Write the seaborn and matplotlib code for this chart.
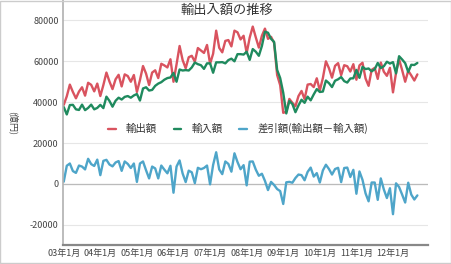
import numpy as np
import pandas as pd
import seaborn as sns
import matplotlib.pyplot as plt
from matplotlib.patches import Rectangle

# monthly values, 2003-01 .. 2012-09 (億円)
exports = [
    38700, 42900, 48600, 45000, 41900, 45200, 47300, 43200, 49500, 48500, 45300, 49100,
    43000, 48400, 54500, 50100, 46400, 51200, 53400, 47700, 53600, 52800, 50000, 53300,
    45000, 50800, 57700, 54000, 48400, 54500, 55600, 51800, 58800, 58000, 57000, 61000,
    50000, 58500, 67500, 60600, 56600, 62000, 62700, 59800, 66500, 65300, 64100, 68000,
    58800, 63700, 75000, 66600, 64400, 70000, 70400, 67300, 75000, 74200, 70700, 72500,
    64000, 71600, 77000, 71700, 66700, 72500, 76000, 71000, 72000, 69000, 53300, 48300,
    34800, 35300, 41600, 39700, 38000, 43000, 45500, 41500, 48600, 48900, 47400, 51700,
    45700, 51800, 60000, 56600, 52000, 57800, 59100, 53200, 58100, 57600, 55000, 58600,
    51000, 58000, 59300, 51600, 48000, 55800, 56800, 51400, 59400, 54900, 52900, 56800,
    44800, 54400, 61000, 55700, 50000, 55400, 53100, 50600, 53600,
]
imports = [
    37600, 34000, 38600, 38700, 36500, 36200, 38800, 36100, 37200, 38800, 36500, 37200,
    38700, 37100, 42700, 40600, 37800, 40700, 42200, 41300, 42600, 43000, 42200, 43300,
    44000, 40800, 46700, 47300, 45700, 46000, 48000, 49100, 49800, 51000, 51800, 52100,
    54300, 50000, 56000, 55500, 55700, 55500, 57000, 59400, 58600, 58100, 56300, 59000,
    59000, 54400, 59500, 59500, 59600, 59000, 60600, 61300, 60000, 63500, 63500, 63300,
    64700, 60700, 66000, 64700, 62700, 67500, 74500, 74000, 71000, 69500, 55800, 51800,
    44600, 34500, 40600, 39100, 35100, 38400, 41200, 39700, 42700, 40900, 43800, 46400,
    45000, 45200, 50600, 49300, 47400, 50500, 51200, 52300, 50300, 49600, 51600, 51700,
    55800, 51900, 57300, 56200, 56500, 55100, 56100, 59200, 56700, 57600, 59800, 58900,
    59600, 54100, 62500, 60900, 59100, 54800, 58300, 58200, 59200,
]
balance = [
    1100, 8900, 10000, 6300, 5400, 9000, 8500, 7100, 12300, 9700, 8800, 11900,
    4300, 11300, 11800, 9500, 8600, 10500, 11200, 6400, 11000, 9800, 7800, 10000,
    1000, 10000, 11000, 6700, 2700, 8500, 7600, 2700, 9000, 7000, 5200, 8900,
    -4300, 8500, 11500, 5100, 900, 6500, 5700, 400, 7900, 7200, 7800, 9000,
    -200, 9300, 15500, 7100, 4800, 11000, 9800, 6000, 15000, 10700, 7200, 9200,
    -700, 10900, 11000, 7000, 4000, 5000, 1500, -3000, 1000, -500, -2500, -3500,
    -9800, 800, 1000, 600, 2900, 4600, 4300, 1800, 5900, 8000, 3600, 5300,
    700, 6600, 9400, 7300, 4600, 7300, 7900, 900, 7800, 8000, 3400, 6900,
    -4800, 6100, 2000, -4600, -8500, 700, 700, -7800, 2700, -2700, -6900, -2100,
    -14800, 300, -1500, -5200, -9100, 600, -5200, -7600, -5600,
]
tick_labels = ['03年1月', '04年1月', '05年1月', '06年1月', '07年1月',
               '08年1月', '09年1月', '10年1月', '11年1月', '12年1月']
series_names = ['輸出額', '輸入額', '差引額(輸出額－輸入額)']
colors = ['#d9535f', '#1f8a5e', '#4ea5c9']

sns.set_style('white')
plt.rcParams['font.family'] = ['Noto Sans CJK JP', 'DejaVu Sans']

df = pd.DataFrame({'month': np.arange(len(exports)),
                   series_names[0]: exports,
                   series_names[1]: imports,
                   series_names[2]: balance})
long_df = df.melt(id_vars='month', var_name='series', value_name='value')

fig = plt.figure(figsize=(4.52, 2.64), dpi=100)
ax = fig.add_axes([0.139, 0.071, 0.808, 0.929])

sns.lineplot(data=long_df, x='month', y='value', hue='series',
             hue_order=series_names, palette=colors, linewidth=1.7, ax=ax)

ax.set_ylim(-30000, 90000)
ax.set_xlim(-0.3, 119.5)
ax.set_yticks([-20000, 0, 20000, 40000, 60000, 80000])
ax.set_yticklabels(['-20000', '0', '20000', '40000', '60000', '80000'])
ax.set_xticks(np.arange(0, 120, 12))
ax.set_xticklabels(tick_labels)
ax.tick_params(axis='both', labelsize=6.5, colors='#444444', length=0, pad=3)
ax.set_xlabel('')
ax.set_ylabel('(億円)', fontsize=6.5, color='#444444', labelpad=16, rotation=270)

ax.grid(axis='y', color='#e6e6e6', linewidth=0.8)
ax.axhline(0, color='#bbbbbb', linewidth=0.9, zorder=1)
for side in ['top', 'right']:
    ax.spines[side].set_visible(False)
ax.spines['left'].set_color('#b0b0b0')
ax.spines['left'].set_linewidth(1.2)
ax.spines['bottom'].set_color('#888888')
ax.spines['bottom'].set_linewidth(1.6)

ax.text(0.45, 0.985, '輸出入額の推移', transform=ax.transAxes, ha='center', va='top',
        fontsize=9.5, color='#333333')

ax.legend(loc='center', bbox_to_anchor=(0.48, 0.475), ncol=3, frameon=False,
          fontsize=7.5, handlelength=0.7, handletextpad=1.0, columnspacing=1.6,
          labelcolor='#333333')

fig.patches.append(Rectangle((0.001, 0.002), 0.997, 0.995, transform=fig.transFigure,
                             fill=False, edgecolor='#cccccc', linewidth=1))

fig.savefig('out.png', dpi=100)
